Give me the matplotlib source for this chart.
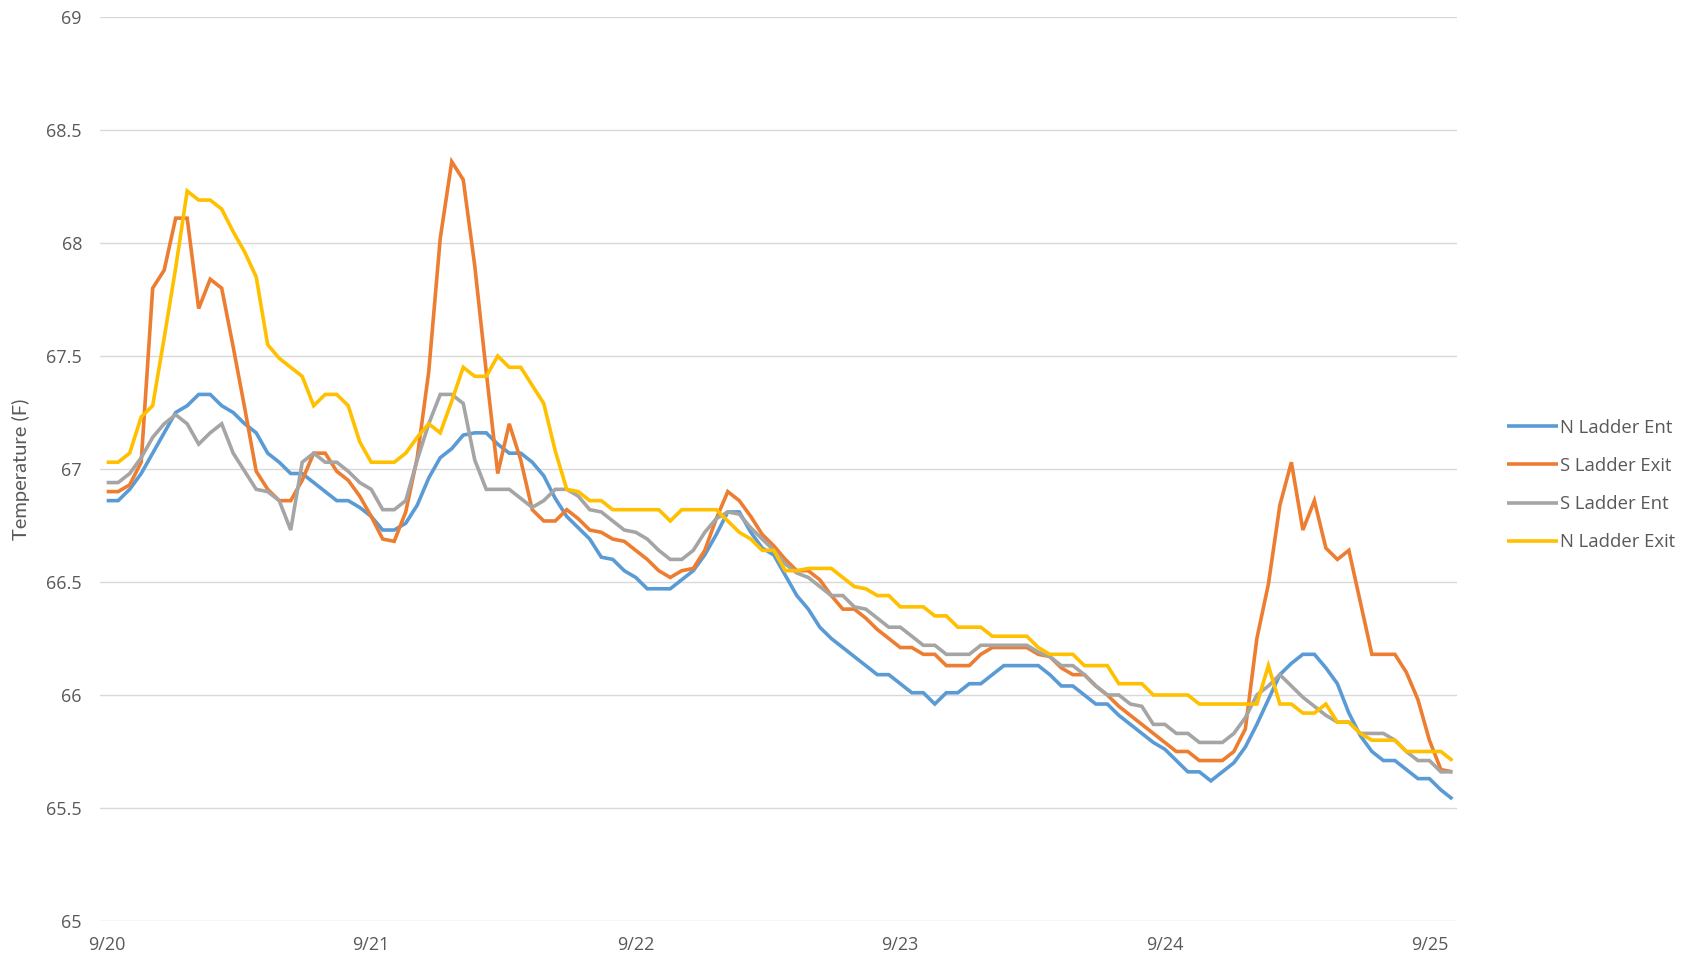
import matplotlib
matplotlib.use("Agg")
import matplotlib.pyplot as plt
import numpy as np

# ---- data (hourly-ish readings, 118 samples) ----
tick_labels = ["9/20", "9/21", "9/22", "9/23", "9/24", "9/25"]
tick_step = 23  # samples between date labels

n_ladder_ent = [
    66.86, 66.86, 66.91, 66.98, 67.07, 67.16, 67.25, 67.28, 67.33, 67.33, 67.28, 67.25, 67.20, 67.16, 67.07, 67.03, 66.98, 66.98, 66.94, 66.90, 66.86,
    66.86, 66.83, 66.79, 66.73, 66.73, 66.76, 66.84, 66.96, 67.05, 67.09, 67.15, 67.16, 67.16, 67.11, 67.07, 67.07, 67.03, 66.97, 66.87, 66.79,
    66.74, 66.69, 66.61, 66.60, 66.55, 66.52, 66.47, 66.47, 66.47, 66.51, 66.55, 66.62, 66.71, 66.81, 66.81, 66.72, 66.65, 66.62, 66.53, 66.44,
    66.38, 66.30, 66.25, 66.21, 66.17, 66.13, 66.09, 66.09, 66.05, 66.01, 66.01, 65.96, 66.01, 66.01, 66.05, 66.05, 66.09, 66.13, 66.13, 66.13,
    66.13, 66.09, 66.04, 66.04, 66.00, 65.96, 65.96, 65.91, 65.87, 65.83, 65.79, 65.76, 65.71, 65.66, 65.66, 65.62, 65.66, 65.70, 65.77, 65.87,
    65.98, 66.09, 66.14, 66.18, 66.18, 66.12, 66.05, 65.92, 65.82, 65.75, 65.71, 65.71, 65.67, 65.63, 65.63, 65.58, 65.54,
]
s_ladder_exit = [
    66.90, 66.90, 66.93, 67.03, 67.80, 67.88, 68.11, 68.11, 67.71, 67.84, 67.80, 67.54, 67.27, 66.99, 66.91, 66.86, 66.86, 66.95, 67.07, 67.07, 66.99,
    66.95, 66.88, 66.79, 66.69, 66.68, 66.81, 67.05, 67.43, 68.02, 68.36, 68.28, 67.90, 67.43, 66.98, 67.20, 67.04, 66.82, 66.77, 66.77, 66.82,
    66.78, 66.73, 66.72, 66.69, 66.68, 66.64, 66.60, 66.55, 66.52, 66.55, 66.56, 66.64, 66.78, 66.90, 66.86, 66.79, 66.71, 66.66, 66.60, 66.55,
    66.55, 66.51, 66.44, 66.38, 66.38, 66.34, 66.29, 66.25, 66.21, 66.21, 66.18, 66.18, 66.13, 66.13, 66.13, 66.18, 66.21, 66.21, 66.21, 66.21,
    66.18, 66.17, 66.12, 66.09, 66.09, 66.04, 66.00, 65.95, 65.91, 65.87, 65.83, 65.79, 65.75, 65.75, 65.71, 65.71, 65.71, 65.75, 65.85, 66.25,
    66.49, 66.84, 67.03, 66.73, 66.86, 66.65, 66.60, 66.64, 66.41, 66.18, 66.18, 66.18, 66.10, 65.98, 65.80, 65.67, 65.66,
]
s_ladder_ent = [
    66.94, 66.94, 66.98, 67.05, 67.14, 67.20, 67.24, 67.20, 67.11, 67.16, 67.20, 67.07, 66.99, 66.91, 66.90, 66.86, 66.73, 67.03, 67.07, 67.03, 67.03,
    66.99, 66.94, 66.91, 66.82, 66.82, 66.86, 67.04, 67.20, 67.33, 67.33, 67.29, 67.04, 66.91, 66.91, 66.91, 66.87, 66.83, 66.86, 66.91, 66.91,
    66.88, 66.82, 66.81, 66.77, 66.73, 66.72, 66.69, 66.64, 66.60, 66.60, 66.64, 66.72, 66.78, 66.81, 66.80, 66.74, 66.69, 66.64, 66.58, 66.54,
    66.52, 66.48, 66.44, 66.44, 66.39, 66.38, 66.34, 66.30, 66.30, 66.26, 66.22, 66.22, 66.18, 66.18, 66.18, 66.22, 66.22, 66.22, 66.22, 66.22,
    66.19, 66.17, 66.13, 66.13, 66.09, 66.04, 66.00, 66.00, 65.96, 65.95, 65.87, 65.87, 65.83, 65.83, 65.79, 65.79, 65.79, 65.83, 65.90, 66.00,
    66.04, 66.09, 66.04, 65.99, 65.95, 65.91, 65.88, 65.88, 65.83, 65.83, 65.83, 65.80, 65.75, 65.71, 65.71, 65.66, 65.66,
]
n_ladder_exit = [
    67.03, 67.03, 67.07, 67.23, 67.28, 67.58, 67.89, 68.23, 68.19, 68.19, 68.15, 68.05, 67.96, 67.85, 67.55, 67.49, 67.45, 67.41, 67.28, 67.33, 67.33,
    67.28, 67.12, 67.03, 67.03, 67.03, 67.07, 67.14, 67.20, 67.16, 67.30, 67.45, 67.41, 67.41, 67.50, 67.45, 67.45, 67.37, 67.29, 67.08, 66.91,
    66.90, 66.86, 66.86, 66.82, 66.82, 66.82, 66.82, 66.82, 66.77, 66.82, 66.82, 66.82, 66.82, 66.77, 66.72, 66.69, 66.64, 66.64, 66.55, 66.55,
    66.56, 66.56, 66.56, 66.52, 66.48, 66.47, 66.44, 66.44, 66.39, 66.39, 66.39, 66.35, 66.35, 66.30, 66.30, 66.30, 66.26, 66.26, 66.26, 66.26,
    66.21, 66.18, 66.18, 66.18, 66.13, 66.13, 66.13, 66.05, 66.05, 66.05, 66.00, 66.00, 66.00, 66.00, 65.96, 65.96, 65.96, 65.96, 65.96, 65.96,
    66.13, 65.96, 65.96, 65.92, 65.92, 65.96, 65.88, 65.88, 65.83, 65.80, 65.80, 65.80, 65.75, 65.75, 65.75, 65.75, 65.71,
]

series_names = ["N Ladder Ent", "S Ladder Exit", "S Ladder Ent", "N Ladder Exit"]
series_colors = ["#5B9BD5", "#ED7D31", "#A5A5A5", "#FFC000"]

# ---- figure ----
fig = plt.figure(figsize=(16.97, 9.66), dpi=100)
ax = fig.add_axes([100 / 1697, 45 / 966, 1357 / 1697, 904 / 966])

for name, vals, col in zip(series_names,
                           [n_ladder_ent, s_ladder_exit, s_ladder_ent, n_ladder_exit],
                           series_colors):
    ax.plot(np.arange(len(vals)), vals, color=col, lw=2.6, label=name,
            solid_joinstyle="miter", solid_capstyle="butt")

ax.set_ylim(65, 69)
ax.set_yticks(np.arange(65, 69.01, 0.5))
ax.set_yticklabels(["65", "65.5", "66", "66.5", "67", "67.5", "68", "68.5", "69"],
                   fontfamily="Open Sans", fontsize=13, color="#595959")
ax.set_xlim(-0.58, 117.4)
ax.set_xticks(np.arange(len(tick_labels)) * tick_step)
ax.set_xticklabels(tick_labels, fontfamily="Open Sans", fontsize=13, color="#595959")
ax.tick_params(axis="both", length=0)
ax.tick_params(axis="y", pad=13)
ax.tick_params(axis="x", pad=11)
ax.grid(axis="y", color="#D9D9D9", lw=1.0)
ax.set_axisbelow(True)
for s in ax.spines.values():
    s.set_visible(False)

fig.text(21 / 1697, 1 - 469 / 966, "Temperature (F)", rotation=90, va="center", ha="center",
         fontfamily="Lato", fontsize=14.5, color="#595959")

leg = ax.legend(loc="center left", bbox_to_anchor=(1507 / 1697, 1 - 485 / 966),
                bbox_transform=fig.transFigure, frameon=False, borderpad=0,
                borderaxespad=0, handlelength=2.75, handletextpad=0.12,
                labelspacing=1.1, prop={"family": "Open Sans", "size": 13.3})
for t in leg.get_texts():
    t.set_color("#595959")

fig.savefig("out.png", dpi=100, facecolor="white")
